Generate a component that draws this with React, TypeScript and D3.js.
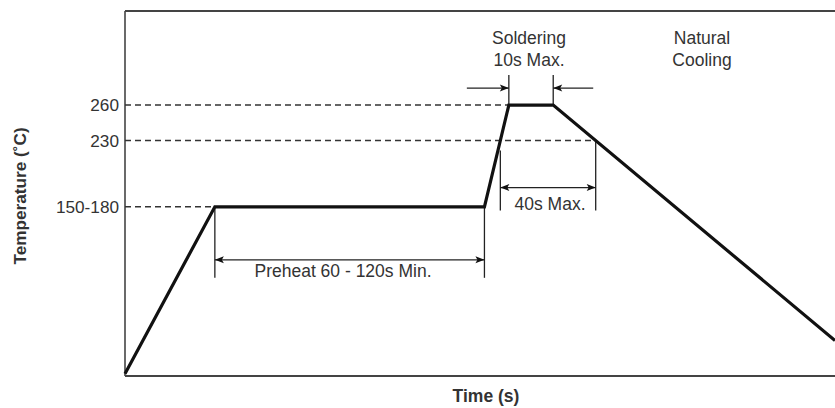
import React from "react";
import * as d3 from "d3";

// Reflow profile (schematic): time (s) vs temperature (°C)
const profileTime = [0, 40.5, 162, 173, 193, 320];
const profileTemp = [33, 174, 174, 260, 260, 61];

// Reference temperature levels and their labels
const levelTemps = [260, 230, 174];
const levelLabels = ["260", "230", "150-180"];

const annotationTexts = {
  preheat: "Preheat 60 - 120s Min.",
  soldering: ["Soldering", "10s Max."],
  cooling: ["Natural", "Cooling"],
  above230: "40s Max.",
};
const xTitle = "Time (s)";
const yTitle = "Temperature (˚C)";

const W = 835;
const H = 408;
const M = { left: 125, right: 0, top: 11, bottom: 32 };

const FONT = "'Liberation Sans', Arial, Helvetica, sans-serif";
const TXT = "#333";

function Arrow({ x, y, dir }: { x: number; y: number; dir: 1 | -1 }) {
  // filled arrow head with tip at (x,y), pointing in dir (1 = right, -1 = left)
  const L = 9;
  const h = 3.5;
  const p = [
    [x, y],
    [x - dir * L, y - h],
    [x - dir * (L - 2), y],
    [x - dir * L, y + h],
  ];
  return <polygon points={p.map((q) => q.join(",")).join(" ")} fill="#111" />;
}

export default function App() {
  const x = d3
    .scaleLinear()
    .domain([0, 320])
    .range([M.left, W - M.right]);
  const y = d3
    .scaleLinear()
    .domain([31, 339.5])
    .range([H - M.bottom, M.top]);

  const pts: [number, number][] = profileTime.map((t, i) => [t, profileTemp[i]]);
  const line = d3
    .line<[number, number]>()
    .x((d) => x(d[0]))
    .y((d) => y(d[1]));

  // intersections of the profile with a given temperature on a segment
  const crossAt = (i: number, T: number) => {
    const [t0, T0] = pts[i];
    const [t1, T1] = pts[i + 1];
    return t0 + ((T - T0) / (T1 - T0)) * (t1 - t0);
  };
  const rise230 = crossAt(2, 230);
  const fall230 = crossAt(4, 230);

  const plateauY = y(profileTemp[1]);
  const preL = x(profileTime[1]);
  const preR = x(profileTime[2]);
  const solL = x(profileTime[3]);
  const solR = x(profileTime[4]);
  const y260 = y(260);
  const y230 = y(230);

  const dashEnds = [x(profileTime[3]), x(fall230), x(profileTime[1])];

  const thin = { stroke: "#222", strokeWidth: 1.3, fill: "none" } as const;

  const preArrowY = plateauY + 53;
  const preExtEnd = plateauY + 71;
  const a40Y = y230 + 47;
  const solArrowY = y260 - 17;

  return (
    <svg
      width={W}
      height={H}
      style={{ position: "absolute", left: 0, top: 0, background: "#fff" }}
      fontFamily={FONT}
    >
      {/* frame */}
      <line x1={M.left} x2={W} y1={M.top} y2={M.top} stroke="#444" strokeWidth={1.8} />
      <line x1={M.left} x2={M.left} y1={M.top} y2={H - M.bottom} stroke="#444" strokeWidth={1.6} />
      <line x1={M.left} x2={W} y1={H - M.bottom} y2={H - M.bottom} stroke="#444" strokeWidth={1.8} />

      {/* dashed reference levels + labels */}
      {levelTemps.map((T, i) => (
        <g key={T}>
          <line
            x1={M.left}
            x2={dashEnds[i]}
            y1={y(T)}
            y2={y(T)}
            stroke="#333"
            strokeWidth={1.4}
            strokeDasharray="6,4"
          />
          <text
            x={M.left - 6}
            y={y(T)}
            textAnchor="end"
            dominantBaseline="central"
            fontSize={17.2}
            fill={TXT}
          >
            {levelLabels[i]}
          </text>
        </g>
      ))}

      {/* preheat dimension */}
      <line x1={preL} x2={preL} y1={plateauY} y2={preExtEnd} {...thin} />
      <line x1={preR} x2={preR} y1={plateauY} y2={preExtEnd} {...thin} />
      <line x1={preL} x2={preR} y1={preArrowY} y2={preArrowY} {...thin} />
      <Arrow x={preL} y={preArrowY} dir={-1} />
      <Arrow x={preR} y={preArrowY} dir={1} />
      <text x={343} y={preExtEnd - 1} textAnchor="middle" fontSize={17.5} fill={TXT}>
        {annotationTexts.preheat}
      </text>

      {/* 40s max above 230 */}
      <line x1={x(rise230)} x2={x(rise230)} y1={y230 + 10} y2={y230 + 70} {...thin} />
      <line x1={x(fall230)} x2={x(fall230)} y1={y230} y2={y230 + 70} {...thin} />
      <line x1={x(rise230)} x2={x(fall230)} y1={a40Y} y2={a40Y} {...thin} />
      <Arrow x={x(rise230)} y={a40Y} dir={-1} />
      <Arrow x={x(fall230)} y={a40Y} dir={1} />
      <text x={550} y={y230 + 69} textAnchor="middle" fontSize={17.5} fill={TXT}>
        {annotationTexts.above230}
      </text>

      {/* soldering 10s max */}
      <line x1={solL} x2={solL} y1={y260 - 30} y2={y260} {...thin} />
      <line x1={solR} x2={solR} y1={y260 - 30} y2={y260} {...thin} />
      <line x1={solL - 42} x2={solL} y1={solArrowY} y2={solArrowY} {...thin} />
      <line x1={solR} x2={solR + 40} y1={solArrowY} y2={solArrowY} {...thin} />
      <Arrow x={solL} y={solArrowY} dir={1} />
      <Arrow x={solR} y={solArrowY} dir={-1} />
      <text textAnchor="middle" fontSize={17.5} fill={TXT}>
        <tspan x={529} y={44}>{annotationTexts.soldering[0]}</tspan>
        <tspan x={529} y={66}>{annotationTexts.soldering[1]}</tspan>
      </text>
      <text textAnchor="middle" fontSize={17.5} fill={TXT}>
        <tspan x={702} y={44}>{annotationTexts.cooling[0]}</tspan>
        <tspan x={702} y={66}>{annotationTexts.cooling[1]}</tspan>
      </text>

      {/* profile */}
      <path
        d={line(pts) ?? ""}
        fill="none"
        stroke="#111"
        strokeWidth={3.2}
        strokeLinejoin="miter"
      />

      {/* axis titles */}
      <text x={486} y={402} textAnchor="middle" fontSize={17.5} fontWeight="bold" fill={TXT}>
        {xTitle}
      </text>
      <text
        transform={`translate(26,196) rotate(-90)`}
        textAnchor="middle"
        fontSize={17.2}
        fontWeight="bold"
        fill={TXT}
      >
        {yTitle}
      </text>
    </svg>
  );
}
